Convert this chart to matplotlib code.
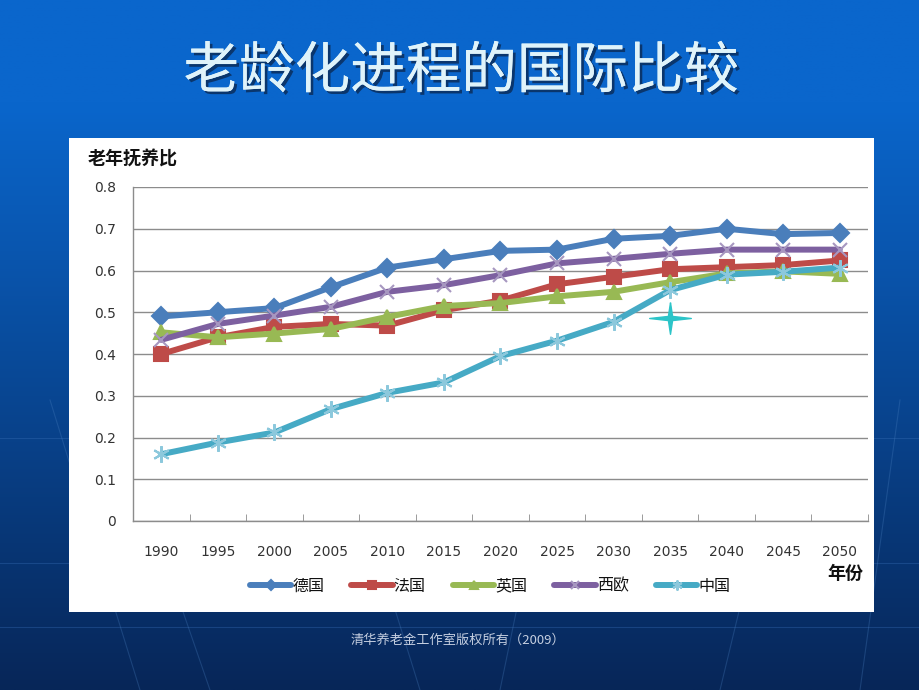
import numpy as np
import matplotlib
matplotlib.use("Agg")
import matplotlib.pyplot as plt
import matplotlib.patches as patches
import matplotlib.patheffects as pe
from matplotlib.path import Path

plt.rcParams['font.family'] = ['Noto Sans CJK SC', 'DejaVu Sans']

# 数据
years = ['1990', '1995', '2000', '2005', '2010', '2015', '2020',
         '2025', '2030', '2035', '2040', '2045', '2050']
germany = [0.49, 0.50, 0.51, 0.56, 0.607, 0.627, 0.647, 0.65, 0.676, 0.683, 0.70, 0.687, 0.69]
france = [0.40, 0.44, 0.465, 0.472, 0.468, 0.505, 0.528, 0.567, 0.585, 0.603, 0.608, 0.613, 0.624]
uk = [0.452, 0.44, 0.449, 0.46, 0.489, 0.515, 0.522, 0.538, 0.549, 0.572, 0.593, 0.598, 0.592]
west_europe = [0.434, 0.472, 0.492, 0.513, 0.549, 0.565, 0.589, 0.617, 0.628, 0.64, 0.65, 0.65, 0.65]
china = [0.16, 0.188, 0.212, 0.268, 0.307, 0.332, 0.395, 0.432, 0.477, 0.553, 0.59, 0.597, 0.607]
series_names = ['德国', '法国', '英国', '西欧', '中国']
star_year = '2035'
star_value = 0.487

W, H = 920, 690
fig = plt.figure(figsize=(W / 100, H / 100), dpi=100)

# 背景渐变
bg = fig.add_axes([0, 0, 1, 1])
bg.set_xlim(0, W)
bg.set_ylim(H, 0)
bg.axis('off')
top = np.array([0x0a, 0x66, 0xcc]) / 255
bot = np.array([0x07, 0x26, 0x58]) / 255
t = np.clip((np.linspace(0, 1, 300) - 0.15) / 0.85, 0, 1)[:, None]
grad = top * (1 - t) + bot * t
bg.imshow(np.repeat(grad[:, None, :], 2, axis=1), extent=[0, W, H, 0], aspect='auto', zorder=0)
# 淡淡的背景线
for yy in (438, 563, 627):
    bg.plot([0, W], [yy, yy], color='#3a70b8', lw=0.8, alpha=0.35, zorder=1)
for x0, x1 in ((50, 140), (110, 210), (330, 420), (560, 500), (790, 720), (900, 860)):
    bg.plot([x0, x1], [400, H], color='#4a80c0', lw=0.8, alpha=0.3, zorder=1)

bg.text(461, 72, '老龄化进程的国际比较', fontsize=40, color='#dff3fa',
        ha='center', va='center', zorder=3,
        path_effects=[pe.withSimplePatchShadow(offset=(2, -2), shadow_rgbFace='#0a2a55', alpha=0.8),
                      pe.Normal()])
bg.add_patch(patches.Rectangle((69, 138), 805, 474, facecolor='white', edgecolor='none', zorder=2))
bg.text(88, 159, '老年抚养比', fontsize=13, fontweight='bold', color='#111111', va='center', zorder=3)
bg.text(845, 573, '年份', fontsize=13, fontweight='bold', color='#111111',
        ha='center', va='center', zorder=3)
bg.text(458, 640, '清华养老金工作室版权所有（2009）', fontsize=9.5, color='#c4cee0',
        ha='center', va='center', zorder=3)

ax = fig.add_axes([133 / W, 1 - 521 / H, 735 / W, 334 / H])
ax.set_facecolor('none')
x = np.arange(len(years))

styles = [
    (germany, '#4a7ebb', 'D', 9, '#4a7ebb'),
    (france, '#be4b48', 's', 10, '#be4b48'),
    (uk, '#98b954', '^', 10, '#98b954'),
    (west_europe, '#7d60a0', 'x', 10, '#a797c0'),
    (china, '#46aac5', (6, 2, 0), 12, '#8cc8dc'),
]
for (vals, col, mk, ms, mcol), name in zip(styles, series_names):
    ax.plot(x, vals, color=col, lw=4.3, marker=mk, markersize=ms,
            markerfacecolor=mcol, markeredgecolor=mcol, markeredgewidth=1.5,
            label=name, solid_capstyle='round', zorder=3)

# 十字星标记
star = Path([(0, 0.76), (0.1, 0.1), (1, 0), (0.1, -0.1), (0, -0.76), (-0.1, -0.1),
             (-1, 0), (-0.1, 0.1), (0, 0.76)])
ax.plot([years.index(star_year)], [star_value], marker=star, markersize=30,
        color='#2cc4c8', markeredgecolor='#2cc4c8', linestyle='none', zorder=4)

ax.set_xlim(-0.5, len(years) - 0.5)
ax.set_ylim(0, 0.8)
ax.set_yticks(np.arange(0, 0.81, 0.1))
ax.set_yticklabels(['0', '0.1', '0.2', '0.3', '0.4', '0.5', '0.6', '0.7', '0.8'])
ax.set_xticks(x)
ax.set_xticklabels(years)
ax.set_xticks(np.arange(0.5, len(years)), minor=True)
ax.tick_params(axis='x', which='major', length=0, pad=17, labelsize=10, labelcolor='#333333')
ax.tick_params(axis='x', which='minor', direction='in', length=5, color='#8c8c8c')
ax.tick_params(axis='y', length=0, pad=12, labelsize=10, labelcolor='#333333')
for lab in ax.get_xticklabels() + ax.get_yticklabels():
    lab.set_family('DejaVu Sans')
ax.grid(axis='y', color='#8c8c8c', lw=1)
ax.set_axisbelow(True)
for s in ('top', 'right'):
    ax.spines[s].set_visible(False)
for s in ('left', 'bottom'):
    ax.spines[s].set_color('#8c8c8c')
    ax.spines[s].set_linewidth(1)

leg = fig.legend(loc='center', bbox_to_anchor=(490 / W, 1 - 586 / H), ncol=5,
                 frameon=False, fontsize=11.5, handlelength=2.6, handletextpad=0.05,
                 columnspacing=1.7, markerscale=0.6)
for txt in leg.get_texts():
    txt.set_color('#111111')

fig.savefig('out.png', dpi=100)
